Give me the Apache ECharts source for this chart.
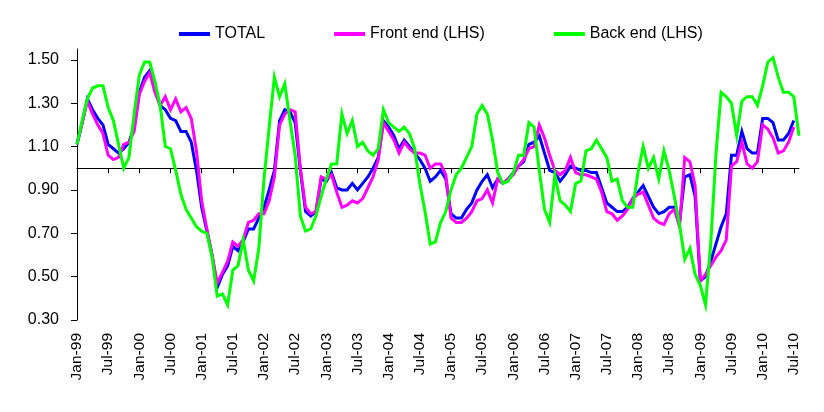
<!DOCTYPE html>
<html>
<head>
<meta charset="utf-8">
<script src="https://cdn.jsdelivr.net/npm/echarts@6/dist/echarts.min.js"></script>
<style>html,body{margin:0;padding:0;background:#fff;}#c{width:824px;height:412px;}</style>
</head>
<body>
<div id="c"></div>
<script>
var monthNames = ['Jan','Feb','Mar','Apr','May','Jun','Jul','Aug','Sep','Oct','Nov','Dec'];
var categories = [];
for (var k = 0; k < 140; k++) {
  var yr = 1999 + Math.floor(k / 12);
  categories.push(monthNames[k % 12] + '-' + String(yr).slice(2));
}
var yTickValues = [0.30, 0.50, 0.70, 0.90, 1.10, 1.30, 1.50];
var seriesNames = ['TOTAL', 'Front end (LHS)', 'Back end (LHS)'];

var total = [
1.11,1.21,1.32,1.27,1.23,1.20,1.11,1.09,1.07,1.09,1.12,1.19,
1.35,1.42,1.45,1.37,1.29,1.27,1.23,1.22,1.17,1.17,1.12,0.99,
0.82,0.71,0.60,0.45,0.51,0.55,0.64,0.62,0.66,0.72,0.72,0.77,
0.82,0.90,0.99,1.22,1.27,1.26,1.21,0.99,0.80,0.78,0.80,0.95,
0.94,0.98,0.91,0.90,0.90,0.93,0.90,0.93,0.96,1.00,1.05,1.22,
1.19,1.15,1.09,1.13,1.10,1.07,1.04,1.00,0.94,0.96,0.99,0.95,
0.79,0.77,0.77,0.81,0.84,0.90,0.94,0.97,0.91,0.95,0.93,0.95,
0.98,1.01,1.03,1.11,1.12,1.15,1.07,0.99,0.98,0.94,0.97,1.01,
1.00,0.99,0.99,0.98,0.98,0.91,0.84,0.82,0.80,0.80,0.82,0.86,
0.89,0.92,0.87,0.82,0.79,0.80,0.82,0.82,0.75,0.96,0.97,0.87,
0.48,0.50,0.57,0.65,0.73,0.79,1.06,1.06,1.17,1.09,1.07,1.07,
1.23,1.23,1.21,1.13,1.13,1.16,1.22
];
var frontEnd = [
1.11,1.21,1.31,1.25,1.20,1.16,1.06,1.04,1.05,1.11,1.12,1.17,
1.34,1.40,1.44,1.35,1.29,1.33,1.27,1.32,1.26,1.28,1.23,1.08,
0.85,0.72,0.60,0.47,0.52,0.57,0.66,0.64,0.67,0.75,0.76,0.79,
0.79,0.85,0.96,1.20,1.25,1.27,1.26,1.00,0.82,0.79,0.80,0.96,
0.95,0.97,0.89,0.82,0.83,0.85,0.84,0.86,0.91,0.96,1.04,1.21,
1.17,1.13,1.07,1.12,1.09,1.07,1.07,1.06,1.00,1.02,1.02,0.97,
0.77,0.75,0.75,0.77,0.80,0.85,0.86,0.90,0.84,0.95,0.93,0.95,
0.97,1.01,1.04,1.09,1.10,1.20,1.14,1.06,0.99,0.97,0.99,1.05,
0.98,0.97,0.97,0.96,0.95,0.89,0.80,0.79,0.76,0.78,0.81,0.86,
0.88,0.89,0.83,0.77,0.75,0.74,0.79,0.81,0.73,1.05,1.03,0.92,
0.48,0.51,0.55,0.59,0.62,0.67,1.01,1.03,1.12,1.02,1.00,1.03,
1.20,1.18,1.14,1.07,1.08,1.12,1.19
];
var backEnd = [
1.11,1.22,1.32,1.37,1.38,1.38,1.28,1.22,1.11,1.00,1.05,1.25,
1.43,1.49,1.49,1.40,1.29,1.10,1.09,0.99,0.88,0.81,0.77,0.73,
0.71,0.70,0.59,0.41,0.42,0.37,0.53,0.55,0.67,0.53,0.48,0.63,
0.95,1.19,1.42,1.33,1.39,1.22,1.06,0.78,0.71,0.72,0.78,0.87,
0.95,1.02,1.02,1.25,1.16,1.22,1.10,1.12,1.08,1.06,1.09,1.27,
1.21,1.19,1.17,1.19,1.16,1.09,0.93,0.80,0.65,0.66,0.75,0.80,
0.90,0.97,1.00,1.05,1.10,1.25,1.29,1.25,1.13,0.98,0.93,0.94,
0.98,1.06,1.06,1.21,1.19,0.99,0.81,0.75,0.97,0.85,0.83,0.80,
0.93,0.94,1.08,1.09,1.13,1.09,1.05,0.94,0.95,0.85,0.82,0.82,
0.98,1.10,1.00,1.05,0.95,1.08,0.99,0.87,0.74,0.58,0.63,0.51,
0.46,0.37,0.65,1.06,1.35,1.33,1.30,1.15,1.31,1.33,1.33,1.29,
1.38,1.49,1.51,1.42,1.35,1.35,1.33,1.15
];

var FONT = '"Liberation Sans", Arial, sans-serif';
var chart = echarts.init(document.getElementById('c'), null, {renderer: 'canvas'});

function lineSeries(name, data, color) {
  return {
    name: name, type: 'line', data: data, xAxisIndex: 0, yAxisIndex: 0,
    symbol: 'none', smooth: false,
    lineStyle: {color: color, width: 3, join: 'miter'},
    itemStyle: {color: color},
    emphasis: {disabled: true}
  };
}

chart.setOption({
  animation: false,
  backgroundColor: '#ffffff',
  textStyle: {fontFamily: FONT},
  legend: {
    left: 179, top: 26, padding: 0,
    icon: 'rect', itemWidth: 31, itemHeight: 4, itemGap: 69,
    textStyle: {fontSize: 16, color: '#000', fontFamily: FONT},
    data: seriesNames
  },
  grid: {left: 77, right: 25, top: 49, bottom: 92, containLabel: false},
  xAxis: [
    {
      type: 'category', data: categories, boundaryGap: false, position: 'bottom',
      axisLine: {show: false, onZero: false},
      axisTick: {show: false},
      axisLabel: {rotate: 90, interval: 5, fontSize: 15.5, color: '#000', margin: 13, fontFamily: FONT},
      splitLine: {show: false}
    },
    {
      type: 'category', data: categories, boundaryGap: false, position: 'bottom',
      axisLine: {show: true, onZero: true, onZeroAxisIndex: 1, lineStyle: {color: '#000', width: 1}},
      axisTick: {show: true, interval: 5, length: 5, inside: false, lineStyle: {color: '#000', width: 1}},
      axisLabel: {show: false},
      splitLine: {show: false}
    }
  ],
  yAxis: [
    {
      type: 'value', min: 0.3, max: 1.55,
      axisLine: {show: true, lineStyle: {color: '#000', width: 1}},
      axisTick: {show: true, length: 6, lineStyle: {color: '#000'}, customValues: yTickValues},
      axisLabel: {fontSize: 16, color: '#000', margin: 18, fontFamily: FONT, customValues: yTickValues,
        formatter: function (v) { return v.toFixed(2); }},
      splitLine: {show: false}
    },
    {
      type: 'value', min: -0.7, max: 0.55, show: false,
      axisLine: {show: false}, axisTick: {show: false}, axisLabel: {show: false}, splitLine: {show: false}
    }
  ],
  series: [
    lineSeries(seriesNames[0], total, '#0000FF'),
    lineSeries(seriesNames[1], frontEnd, '#FF00FF'),
    lineSeries(seriesNames[2], backEnd, '#00FF00')
  ]
});
</script>
</body>
</html>
